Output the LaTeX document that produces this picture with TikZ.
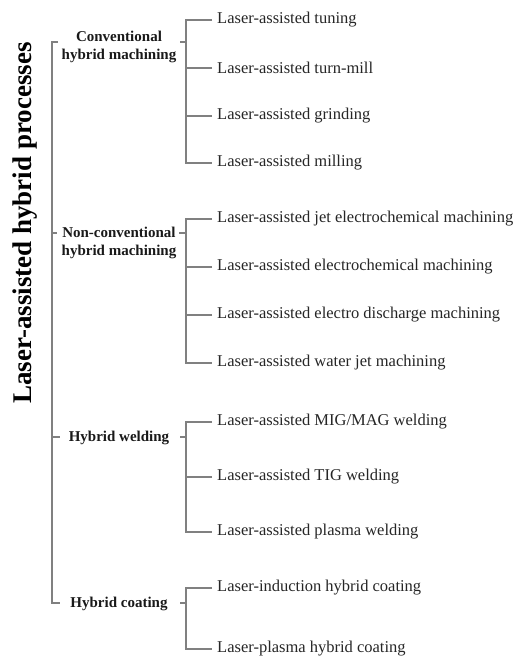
\documentclass[tikz,border=0pt]{standalone}
\usepackage{fontspec}
\setmainfont{Liberation Serif}
\begin{document}
\begin{tikzpicture}[x=1pt,y=-1pt,
  conn/.style={draw=black!50,line width=1.1pt},
  item/.style={anchor=west,inner xsep=5pt,inner ysep=0pt,font=\fontsize{16.5}{19}\selectfont,text=black!85},
  cat/.style={align=center,inner sep=0pt,font=\bfseries\fontsize{15}{18}\selectfont,text=black!90},
  ttl/.style={rotate=90,inner sep=0pt,font=\bfseries\fontsize{27}{30}\selectfont}]
\useasboundingbox (0,0) rectangle (525,659);
% title
\node[ttl] (T) at (25,223) {Laser-assisted hybrid processes};
% categories
\node[cat,anchor=north] (c1) at (119,31) {Conventional\\hybrid machining};
\node[cat,anchor=north] (c2) at (119,227) {Non-conventional\\hybrid machining};
\node[cat] (c3) at (119,438) {Hybrid welding};
\node[cat] (c4) at (119,604) {Hybrid coating};
% main spine joints
\coordinate (m1) at (52,42);
\coordinate (m2) at (52,233);
\coordinate (m3) at (52,437);
\coordinate (m4) at (52,603);
\draw[conn] (58,42) -- (m1) -- (m4) -- (60,603);
\draw[conn] (m2) -- (57,233);
\draw[conn] (m3) -- (60,437);
% items
\node[item] (a1) at (212,20) {Laser-assisted tuning};
\node[item] (a2) at (212,68) {Laser-assisted turn-mill};
\node[item] (a3) at (212,116) {Laser-assisted grinding};
\node[item] (a4) at (212,163) {Laser-assisted milling};
\node[item] (b1) at (212,219) {Laser-assisted jet electrochemical machining};
\node[item] (b2) at (212,267) {Laser-assisted electrochemical machining};
\node[item] (b3) at (212,315) {Laser-assisted electro discharge machining};
\node[item] (b4) at (212,363) {Laser-assisted water jet machining};
\node[item] (w1) at (212,422) {Laser-assisted MIG/MAG welding};
\node[item] (w2) at (212,477) {Laser-assisted TIG welding};
\node[item] (w3) at (212,532) {Laser-assisted plasma welding};
\node[item] (k1) at (212,588) {Laser-induction hybrid coating};
\node[item] (k2) at (212,649) {Laser-plasma hybrid coating};
% sub brackets
\coordinate (s1) at (186,42);
\coordinate (s2) at (186,233);
\coordinate (s3) at (186,437);
\coordinate (s4) at (186,603);
\draw[conn] (180,42) -- (s1);
\draw[conn] (179,233) -- (s2);
\draw[conn] (180,437) -- (s3);
\draw[conn] (180,603) -- (s4);
\draw[conn] (a1.west) -| (s1) |- (a4.west);
\draw[conn] (a2.west) -- (a2.west -| s1);
\draw[conn] (a3.west) -- (a3.west -| s1);
\draw[conn] (b1.west) -| (s2) |- (b4.west);
\draw[conn] (b2.west) -- (b2.west -| s2);
\draw[conn] (b3.west) -- (b3.west -| s2);
\draw[conn] (w1.west) -| (s3) |- (w3.west);
\draw[conn] (w2.west) -- (w2.west -| s3);
\draw[conn] (k1.west) -| (s4) |- (k2.west);
\end{tikzpicture}
\end{document}
